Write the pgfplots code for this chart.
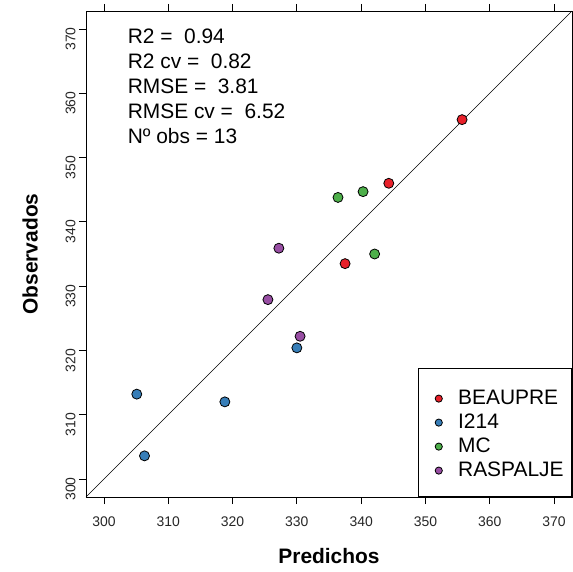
\documentclass[border=0pt]{standalone}
\usepackage{pgfplots}
\pgfplotsset{compat=1.18}
\usepackage{fontspec}
\setmainfont{Liberation Sans}
\definecolor{cRed}{HTML}{E8202A}
\definecolor{cBlue}{HTML}{377EB8}
\definecolor{cGreen}{HTML}{4DAF4A}
\definecolor{cPurple}{HTML}{984EA3}
\begin{document}
\begin{tikzpicture}
\begin{axis}[
  name=ax,
  width=486bp, height=486bp, scale only axis,
  xmin=297.2, xmax=372.8, ymin=297.2, ymax=372.8,
  xtick={300,310,...,370}, ytick={300,310,...,370},
  tick align=outside, major tick length=7bp,
  tick style={black, line width=0.8pt},
  axis line style={line width=0.8pt, black},
  /pgf/number format/assume math mode=true,
  ticklabel style={font=\fontsize{14}{16}\selectfont, color=black!85},
  xticklabel style={yshift=-9bp},
  yticklabel style={rotate=90, anchor=south, xshift=-10bp},
  xlabel={\bfseries Predichos},
  ylabel={\bfseries Observados},
  label style={font=\fontsize{21}{24}\selectfont},
  xlabel style={at={(axis description cs:0.5,-0.121)}, anchor=center},
  ylabel style={at={(axis description cs:-0.115,0.5)}, anchor=center},
  legend style={at={(1,0)}, anchor=south east, draw=black, line width=0.8pt, fill=white,
    inner xsep=0pt, inner ysep=16bp, font=\fontsize{21}{24}\selectfont,
    nodes={inner ysep=0pt, inner xsep=8bp, text height=20bp, text depth=4bp},
    row sep=0pt},
  legend cell align=left,
  legend image code/.code={\path (-20bp,0bp) (11bp,0bp); \draw[#1, mark size=3.6bp] plot coordinates {(0bp,-2bp)};},
  clip=false,
]
\addplot[only marks, mark=*, mark size=5bp, mark options={fill=cRed, draw=black, line width=0.8pt}]
  coordinates {(355.7,355.9) (344.3,346.0) (337.5,333.5)};
\addlegendentry{BEAUPRE}
\addplot[only marks, mark=*, mark size=5bp, mark options={fill=cBlue, draw=black, line width=0.8pt}]
  coordinates {(330.0,320.4) (305.1,313.2) (318.8,312.0) (306.3,303.6)};
\addlegendentry{I214}
\addplot[only marks, mark=*, mark size=5bp, mark options={fill=cGreen, draw=black, line width=0.8pt}]
  coordinates {(340.3,344.7) (336.4,343.8) (342.1,335.0)};
\addlegendentry{MC}
\addplot[only marks, mark=*, mark size=5bp, mark options={fill=cPurple, draw=black, line width=0.8pt}]
  coordinates {(327.2,335.9) (325.5,327.9) (330.5,322.2)};
\addlegendentry{RASPALJE}
\addplot[black, line width=0.6pt, forget plot] coordinates {(297.2,297.2) (372.8,372.8)};
\node[anchor=base west, font=\fontsize{21}{24}\selectfont] at (axis cs:303.15,367.7) {R2 = \ 0.94};
\node[anchor=base west, font=\fontsize{21}{24}\selectfont] at (axis cs:303.15,363.8) {R2 cv = \ 0.82};
\node[anchor=base west, font=\fontsize{21}{24}\selectfont] at (axis cs:303.15,359.9) {RMSE = \ 3.81};
\node[anchor=base west, font=\fontsize{21}{24}\selectfont] at (axis cs:303.15,356.1) {RMSE cv = \ 6.52};
\node[anchor=base west, font=\fontsize{21}{24}\selectfont] at (axis cs:303.15,352.2) {Nº obs = 13};
\end{axis}
\pgfresetboundingbox
\path ([xshift=-86bp,yshift=-75bp]ax.south west) rectangle ([xshift=1bp,yshift=11bp]ax.north east);
\end{tikzpicture}
\end{document}
